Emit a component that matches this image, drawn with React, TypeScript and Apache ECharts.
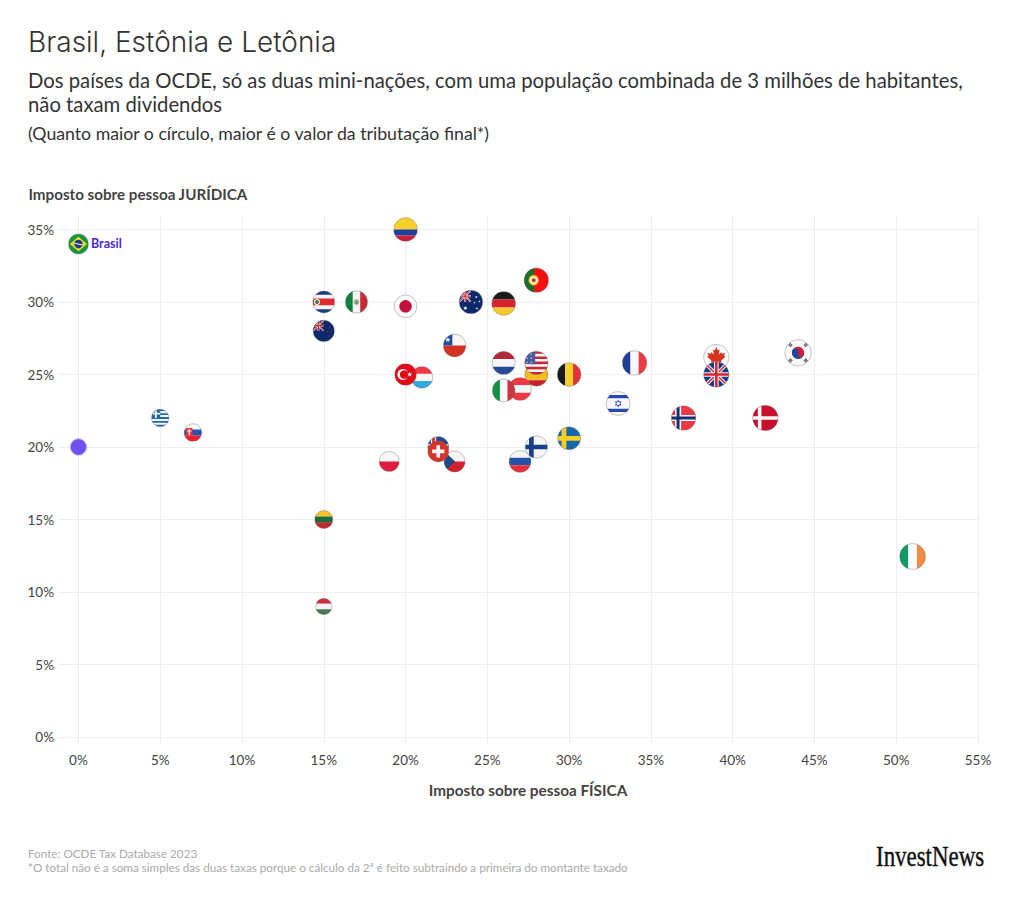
import React, { useEffect, useRef } from "react";
import * as echarts from "echarts";

const countries = ["Estônia/Letônia","Brasil","Grécia","Eslováquia","Costa Rica","México","Nova Zelândia","Colômbia","Japão","Austrália","Alemanha","Portugal","Chile","Holanda","Espanha","EUA","Bélgica","Luxemburgo","Turquia","Áustria","Itália","Polônia","Islândia","República Tcheca","Suíça","Finlândia","Eslovênia","Suécia","França","Israel","Canadá","Reino Unido","Coreia do Sul","Noruega","Dinamarca","Lituânia","Hungria","Irlanda"];
const flagCodes = ["xx","br","gr","sk","cr","mx","nz","co","jp","au","de","pt","cl","nl","es","us","be","lu","tr","at","it","pl","is","cz","ch","fi","si","se","fr","il","ca","gb","kr","no","dk","lt","hu","ie"];
const pessoaFisica = [0,0,5,7,15,17,15,20,20,24,26,28,23,26,28,28,30,21,20,27,26,19,22,23,22,28,27,30,34,33,39,39,44,37,42,15,15,51];
const pessoaJuridica = [20,34,22,21,30,30,28,35,29.7,30,29.9,31.5,27,25.8,25,25.8,25,24.8,25,24,23.9,19,20,19,19.7,20,19,20.6,25.8,23,26.2,25,26.5,22,22,15,9,12.45];
const tributacaoFinal = [20,34,25.9,26.5,40.5,41.9,38.8,48,43.8,46.8,48.2,50.7,43.8,45.2,46,46.5,47.5,40,40,44.5,43.8,34.4,37.6,37.6,37.4,42.4,40.9,44.4,51,48.4,55,54.3,58.8,50.9,54.8,27.8,22.7,57.1];
const pointLabels: Record<string, string> = { Brasil: "Brasil" };
const xTicks = [0,5,10,15,20,25,30,35,40,45,50,55];
const yTicks = [0,5,10,15,20,25,30,35];

const FONT = "Lato";

type S = any;
const R = (x: number, y: number, w: number, h: number, fill: string): S => ({ k: "r", x, y, w, h, fill });
const C = (cx: number, cy: number, r: number, fill: string): S => ({ k: "c", cx, cy, r, fill });
const P = (pts: number[][], fill: string): S => ({ k: "p", pts, fill });
const hs = (cols: string[], fr?: number[]) => {
  const f = fr || cols.map(() => 1 / cols.length);
  let y = -1;
  return cols.map((c, i) => { const h = 2 * f[i]; const s = R(-1, y, 2, h + 0.01, c); y += h; return s; });
};
const vs = (cols: string[]) => cols.map((c, i) => R(-1 + (2 * i) / cols.length, -1, 2 / cols.length + 0.01, 2, c));
const star = (cx: number, cy: number, r: number, fill: string, n = 5, inner = 0.42) => {
  const pts: number[][] = [];
  for (let i = 0; i < n * 2; i++) {
    const a = -Math.PI / 2 + (i * Math.PI) / n;
    const q = i % 2 ? r * inner : r;
    pts.push([cx + q * Math.cos(a), cy + q * Math.sin(a)]);
  }
  return P(pts, fill);
};
const bar = (cx: number, cy: number, l: number, t: number, a: number, fill: string) => {
  const c = Math.cos(a), s = Math.sin(a);
  return P([[-l, -t], [l, -t], [l, t], [-l, t]].map(([x, y]) => [cx + x * c - y * s, cy + x * s + y * c]), fill);
};
const nordic = (bg: string, c1: string, w1: number, c2?: string, w2?: number) => {
  const out = [R(-1, -1, 2, 2, bg), R(-0.45 - w1 / 2, -1, w1, 2, c1), R(-1, -w1 / 2, 2, w1, c1)];
  if (c2) out.push(R(-0.45 - w2! / 2, -1, w2!, 2, c2), R(-1, -w2! / 2, 2, w2!, c2));
  return out;
};
const union = (x0: number, y0: number, x1: number, y1: number, blue: string) => {
  const w = x1 - x0, h = y1 - y0;
  const diag = (t: number, col: string) => [
    P([[x0, y0], [x0 + t * w, y0], [x1, y1 - t * h], [x1, y1], [x1 - t * w, y1], [x0, y0 + t * h]], col),
    P([[x1, y0], [x1 - t * w, y0], [x0, y1 - t * h], [x0, y1], [x0 + t * w, y1], [x1, y0 + t * h]], col),
  ];
  return [
    R(x0, y0, w, h, blue),
    ...diag(0.1, "#f5f5f5"),
    ...diag(0.04, "#d8232f"),
    R(x0 + w * 0.41, y0, w * 0.18, h, "#f5f5f5"),
    R(x0, y0 + h * 0.41, w, h * 0.18, "#f5f5f5"),
    R(x0 + w * 0.45, y0, w * 0.1, h, "#d8232f"),
    R(x0, y0 + h * 0.45, w, h * 0.1, "#d8232f"),
  ];
};
const halfTaegeuk = () => {
  const a0 = 0.45, r = 0.46, pts: number[][] = [];
  for (let i = 0; i <= 24; i++) { const a = a0 + (i * Math.PI) / 24; pts.push([r * Math.cos(a), r * Math.sin(a)]); }
  const dx = (r / 2) * Math.cos(a0), dy = (r / 2) * Math.sin(a0);
  return [C(0, 0, r, "#d01c3c"), P(pts, "#1c4a9c"), C(dx, dy, r / 2, "#d01c3c"), C(-dx, -dy, r / 2, "#1c4a9c")];
};
const trigram = (cx: number, cy: number, a: number) => {
  const out: S[] = [];
  const n = [Math.cos(a), Math.sin(a)];
  for (const d of [-0.085, 0, 0.085]) out.push(bar(cx + n[0] * d, cy + n[1] * d, 0.028, 0.13, a, "#333"));
  return out;
};
const mapleHalf = [[0,-0.78],[0.13,-0.52],[0.26,-0.6],[0.2,-0.2],[0.38,-0.38],[0.44,-0.26],[0.68,-0.32],[0.6,-0.08],[0.72,-0.02],[0.38,0.26],[0.43,0.4],[0.06,0.34],[0.06,0.66]];
const maple = [...mapleHalf, ...mapleHalf.slice().reverse().map(([x, y]) => [-x, y])];

const FLAGS: Record<string, S[]> = {
  br: [R(-1,-1,2,2,"#16993c"), P([[0,-0.72],[0.85,0],[0,0.72],[-0.85,0]],"#f5d533"), C(0,0,0.42,"#1d3f80"), bar(0,0.02,0.42,0.05,0.2,"#e8e8e8")],
  gr: [...hs(["#2166ab","#f4f6fa","#2166ab","#f4f6fa","#2166ab","#f4f6fa","#2166ab","#f4f6fa","#2166ab"]), R(-1,-1,1,1,"#2166ab"), R(-0.6,-1,0.2,1,"#f4f6fa"), R(-1,-0.6,1,0.2,"#f4f6fa")],
  sk: [...hs(["#f8f8f8","#1f55b0","#e8202f"]), P([[-0.78,-0.5],[-0.05,-0.5],[-0.05,0.2],[-0.42,0.58],[-0.78,0.2]],"#e8303a"), R(-0.48,-0.4,0.13,0.7,"#fff"), R(-0.66,-0.22,0.5,0.12,"#fff")],
  cr: [...hs(["#153f85","#f5f5f5","#df2a2f","#f5f5f5","#153f85"],[0.17,0.17,0.32,0.17,0.17]), C(-0.62,0,0.28,"#f5f5f5"), C(-0.62,0,0.18,"#3a7a46")],
  mx: [...vs(["#11803f","#f6f6f6","#c92a3a"]), C(0,0,0.26,"#b8ab85"), C(0,0.06,0.14,"#6a9a70")],
  nz: [R(-1,-1,2,2,"#0a2a6c"), ...union(-1,-1,0,0,"#0a2a6c"), star(0.55,-0.3,0.09,"#d8232f"), star(0.35,0.05,0.09,"#d8232f"), star(0.7,0.05,0.09,"#d8232f"), star(0.52,0.48,0.09,"#d8232f")],
  co: hs(["#f8d02c","#1c3f9a","#c8203c"],[0.5,0.25,0.25]),
  jp: [R(-1,-1,2,2,"#fbfbfb"), C(0,0,0.55,"#c4113c")],
  au: [R(-1,-1,2,2,"#0a2a6c"), ...union(-1,-1,0,0,"#0a2a6c"), star(0.45,-0.42,0.12,"#f5f5f5"), star(0.72,-0.05,0.1,"#f5f5f5"), star(0.3,0.05,0.1,"#f5f5f5"), star(0.5,0.55,0.12,"#f5f5f5"), star(-0.48,0.52,0.2,"#f5f5f5",7)],
  de: hs(["#1a1a1a","#d8232f","#f7c92c"]),
  pt: [R(-1,-1,2,2,"#f5100f"), R(-1,-1,0.8,2,"#17702c"), C(-0.22,0,0.42,"#f5d01c"), C(-0.22,0,0.3,"#f0f0f0"), C(-0.22,0,0.16,"#d8232f")],
  cl: [...hs(["#f6f6f6","#d23220"]), R(-1,-1,0.8,1,"#1f4fa5"), star(-0.6,-0.5,0.25,"#f6f6f6")],
  nl: hs(["#b22a3c","#f6f6f6","#274a96"]),
  es: hs(["#c8202c","#f3bd23","#c8202c"],[0.25,0.5,0.25]),
  us: [...hs(["#c5283d","#f6f6f6","#c5283d","#f6f6f6","#c5283d","#f6f6f6","#c5283d","#f6f6f6","#c5283d"]), R(-1,-1,0.9,1.1,"#4a5a9c"), ...[[-0.8,-0.75],[-0.45,-0.75],[-0.8,-0.4],[-0.45,-0.4],[-0.8,-0.05],[-0.45,-0.05]].map(([x,y]) => star(x,y,0.09,"#f6f6f6"))],
  be: vs(["#1a1a1a","#f8d12c","#e8303a"]),
  lu: hs(["#ee3a44","#f6f6f6","#35a8e0"]),
  tr: [R(-1,-1,2,2,"#e30a17"), C(-0.25,0,0.5,"#fbfbfb"), C(-0.12,0,0.4,"#e30a17"), star(0.38,0,0.24,"#fbfbfb")],
  at: hs(["#ee3a44","#f6f6f6","#ee3a44"]),
  it: vs(["#119248","#f8f8f8","#ca3540"]),
  pl: hs(["#f8f8f8","#dd1c3f"]),
  is: [...nordic("#1d4a95","#f6f6f6",0.5,"#d8232f",0.25)],
  cz: [...hs(["#f6f6f6","#d4202a"]), P([[-1,-1],[0.05,0],[-1,1]],"#1d4a86")],
  ch: [R(-1,-1,2,2,"#d8322a"), R(-0.17,-0.58,0.34,1.16,"#fbfbfb"), R(-0.58,-0.17,1.16,0.34,"#fbfbfb")],
  fi: nordic("#f6f6f6","#173f8a",0.42),
  si: hs(["#f6f6f6","#2553a8","#e8303a"]),
  se: nordic("#1668ad","#f8cd24",0.42),
  fr: vs(["#1e3f94","#f8f8f8","#ee3a44"]),
  il: [R(-1,-1,2,2,"#f8f8f8"), R(-1,-0.72,2,0.28,"#2848b0"), R(-1,0.44,2,0.28,"#2848b0"), star(0,0,0.32,"#2848b0",6,0.58), C(0,0,0.14,"#f8f8f8")],
  ca: [R(-1,-1,2,2,"#fbfbfb"), P(maple,"#d8321f")],
  gb: [...union(-1,-1,1,1,"#1a3a8c")],
  kr: [R(-1,-1,2,2,"#fbfbfb"), ...halfTaegeuk(), ...trigram(-0.58,-0.58,-Math.PI/4+Math.PI/2), ...trigram(0.58,-0.58,Math.PI/4+Math.PI/2), ...trigram(-0.58,0.58,Math.PI/4+Math.PI/2), ...trigram(0.58,0.58,-Math.PI/4+Math.PI/2)],
  no: nordic("#ec3a44","#f6f6f6",0.5,"#103070",0.24),
  dk: nordic("#c8102e","#f6f6f6",0.28),
  lt: hs(["#f4c32a","#1f6a3c","#c0272d"]),
  hu: hs(["#c9303f","#f6f6f6","#487a55"]),
  ie: vs(["#119a62","#fbfbfb","#f58a42"]),
};

const RADIUS_PER_SQRT = 1.72;

function toEl(s: S, r: number) {
  if (s.k === "r") return { type: "rect", silent: true, shape: { x: s.x * r, y: s.y * r, width: s.w * r, height: s.h * r }, style: { fill: s.fill } };
  if (s.k === "c") return { type: "circle", silent: true, shape: { cx: s.cx * r, cy: s.cy * r, r: s.r * r }, style: { fill: s.fill } };
  return { type: "polygon", silent: true, shape: { points: s.pts.map(([x, y]: number[]) => [x * r, y * r]) }, style: { fill: s.fill } };
}

function renderItem(params: any, api: any) {
  const i = params.dataIndex;
  const [px, py] = api.coord([api.value(0), api.value(1)]);
  const r = RADIUS_PER_SQRT * Math.sqrt(api.value(2));
  const code = flagCodes[i];
  const label = pointLabels[countries[i]];
  const children: any[] = [];
  if (code === "xx") {
    children.push({ type: "circle", silent: true, shape: { cx: 0, cy: 0, r }, style: { fill: "#6e50f0", stroke: "rgba(110,80,240,0.4)", lineWidth: 2 } });
  } else {
    children.push({
      type: "group",
      clipPath: { type: "circle", shape: { cx: 0, cy: 0, r } },
      children: FLAGS[code].map((s) => toEl(s, r)),
    });
    children.push({ type: "circle", silent: true, shape: { cx: 0, cy: 0, r: r - 0.1 }, style: { fill: "none", stroke: "rgba(110,110,110,0.4)", lineWidth: 1 } });
  }
  if (label) {
    children.push({ type: "text", silent: true, x: r + 2.5, y: -1, style: { text: label, fill: "#4a2bd6", fontFamily: FONT, fontWeight: 700, fontSize: 12.5, verticalAlign: "middle" } });
  }
  return { type: "group", x: px, y: py, children };
}

export default function App() {
  const ref = useRef<HTMLDivElement>(null);
  useEffect(() => {
    document.body.style.margin = "0";
    const chart = echarts.init(ref.current!, undefined, { renderer: "svg" });
    const gridLine = { show: true, lineStyle: { color: "#eeeeee", width: 1 } };
    chart.setOption({
      animation: false,
      backgroundColor: "#ffffff",
      grid: { left: 58, right: 42, top: 215, bottom: 178, containLabel: false },
      xAxis: {
        type: "value", min: -1.25, max: 55,
        name: "Imposto sobre pessoa FÍSICA", nameLocation: "middle", nameGap: 37,
        nameTextStyle: { color: "#444", fontFamily: FONT, fontWeight: 700, fontSize: 15.3, padding: [0, 0, 0, 20] },
        axisLine: { show: false },
        axisTick: { show: false, customValues: xTicks },
        axisLabel: { customValues: xTicks, formatter: "{value}%", color: "#444", fontFamily: FONT, fontSize: 13.5, margin: 8 },
        splitLine: gridLine,
      },
      yAxis: {
        type: "value", min: -0.55, max: 36,
        name: "Imposto sobre pessoa JURÍDICA", nameLocation: "end", nameGap: 14,
        nameTextStyle: { color: "#444", fontFamily: FONT, fontWeight: 700, fontSize: 15.2, align: "left", padding: [0, 0, 0, -50] },
        axisLine: { show: false },
        axisTick: { show: false, customValues: yTicks },
        axisLabel: { customValues: yTicks, formatter: "{value}%", color: "#444", fontFamily: FONT, fontSize: 13.5, margin: 4 },
        splitLine: gridLine,
      },
      series: [{
        type: "custom",
        name: "Tributação",
        coordinateSystem: "cartesian2d",
        clip: false,
        renderItem,
        encode: { x: 0, y: 1 },
        data: pessoaFisica.map((x, i) => [x, pessoaJuridica[i], tributacaoFinal[i]]),
      }],
      graphic: [
        { type: "text", left: 28, top: 28, style: { text: "Brasil, Estônia e Letônia", fill: "#333", fontFamily: "Inter", fontWeight: 300, fontSize: 28 } },
        { type: "text", left: 28, top: 68, style: { text: "Dos países da OCDE, só as duas mini-nações, com uma população combinada de 3 milhões de habitantes,\nnão taxam dividendos", fill: "#333", fontFamily: FONT, fontSize: 20.3, lineHeight: 24 } },
        { type: "text", left: 28, top: 124, style: { text: "(Quanto maior o círculo, maior é o valor da tributação final*)", fill: "#333", fontFamily: FONT, fontSize: 17.7 } },
        { type: "text", left: 28, top: 846, style: { text: "Fonte: OCDE Tax Database 2023\n*O total não é a soma simples das duas taxas porque o cálculo da 2ª é feito subtraindo a primeira do montante taxado", fill: "#aaaaaa", fontFamily: FONT, fontSize: 11.7, lineHeight: 14 } },
        { type: "text", x: 876, y: 842, scaleX: 0.79, style: { text: "InvestNews", fill: "#111", stroke: "#111", lineWidth: 0.4, fontFamily: "Liberation Serif", fontSize: 29 } },
      ],
    });
    return () => chart.dispose();
  }, []);
  return <div ref={ref} style={{ position: "absolute", left: 0, top: 0, width: 1020, height: 923 }} />;
}
